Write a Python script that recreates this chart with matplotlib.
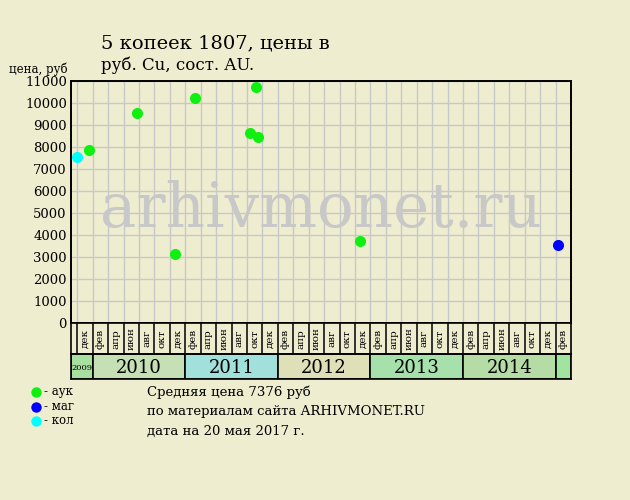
import matplotlib

matplotlib.use("Agg")
import matplotlib.pyplot as plt
from matplotlib.patches import Rectangle

plt.rcParams["font.family"] = ["DejaVu Serif"]

BG = "#EFEDD0"

# x in months counted from January 2010
green_x = [-0.44, 5.78, 10.70, 13.26, 20.38, 21.38, 21.20, 34.68]
green_y = [7846, 9524, 3143, 10204, 8617, 8463, 10703, 3719]
blue_x = [60.35]
blue_y = [3537]
cyan_x = [-2.0]
cyan_y = [7555]

month_labels = ["фев", "апр", "июн", "авг", "окт", "дек"]
years = ["2009", "2010", "2011", "2012", "2013", "2014", ""]
year_colors = ["#A8E0A0", "#C4E0B4", "#A2E0DC", "#E0E0B8", "#A6E0AA", "#B4DCA4", "#A0E4A0"]
yticks = list(range(0, 11001, 1000))

legend_labels = ["- аук", "- маг", "- кол"]
note_lines = ["Средняя цена 7376 руб", "по материалам сайта ARHIVMONET.RU",
              "дата на 20 мая 2017 г."]

XMIN, XMAX = -2.82, 61.93
grid_x = list(range(-2, 61, 2))

fig = plt.figure(figsize=(6.3, 5.0), dpi=100, facecolor=BG)
W, H = 630, 500


def box(x0, y0, x1, y1):
    return [x0 / W, 1 - y1 / H, (x1 - x0) / W, (y1 - y0) / H]


# ── main plot ─────────────────────────────────────────────
ax = fig.add_axes(box(71, 80.7, 570.5, 323.3))
ax.set_facecolor(BG)
ax.set_xlim(XMIN, XMAX)
ax.set_ylim(0, 11000)
for gx in grid_x:
    ax.axvline(gx, color="#C8C8C8", lw=1.0, zorder=1)
for gy in yticks[1:]:
    ax.axhline(gy, color="#C8C8C8", lw=1.0, zorder=1)
ax.set_xticks([])
ax.set_yticks(yticks)
ax.set_yticklabels([str(v) for v in yticks], fontsize=9.5)
ax.tick_params(axis="y", length=0, pad=3)
for s in ax.spines.values():
    s.set_linewidth(1.4)
    s.set_color("black")

ax.text((XMIN + XMAX) / 2, 5150, "arhivmonet.ru", fontsize=44, color="#C8C8C8",
        ha="center", va="center", zorder=2)

ax.scatter(green_x, green_y, s=64, color="#10F010", zorder=4, linewidths=0)
ax.scatter(blue_x, blue_y, s=64, color="#0000FF", zorder=4, linewidths=0)
ax.scatter(cyan_x, cyan_y, s=64, color="#00FFFF", zorder=4, linewidths=0)

# ── month label row ───────────────────────────────────────
axm = fig.add_axes(box(71, 323.3, 570.5, 354))
axm.set_facecolor(BG)
axm.set_xlim(XMIN, XMAX)
axm.set_ylim(0, 1)
axm.set_xticks([])
axm.set_yticks([])
for gx in grid_x:
    axm.axvline(gx, color="black", lw=1.1)
for m in range(-1, 62, 2):
    lab = month_labels[((m + 1) // 2 - 1) % 6]
    axm.text(m, 0.5, lab, rotation=90, fontsize=7.5, ha="center", va="center")
for s in axm.spines.values():
    s.set_linewidth(1.2)

# ── year band ─────────────────────────────────────────────
axy = fig.add_axes(box(71, 354, 570.5, 379))
axy.set_xlim(XMIN, XMAX)
axy.set_ylim(0, 1)
axy.set_xticks([])
axy.set_yticks([])
bounds = [XMIN, 0, 12, 24, 36, 48, 60, XMAX]
for i, (yr, col) in enumerate(zip(years, year_colors)):
    x0, x1 = bounds[i], bounds[i + 1]
    axy.add_patch(Rectangle((x0, 0), x1 - x0, 1, facecolor=col, edgecolor="black", lw=1.2))
    if yr:
        axy.text((x0 + x1) / 2, 0.45, yr, ha="center", va="center",
                 fontsize=6 if yr == "2009" else 13)
for s in axy.spines.values():
    s.set_linewidth(1.2)

# ── texts ─────────────────────────────────────────────────
fig.text(101 / W, 1 - 43 / H, "5 копеек 1807, цены в", fontsize=14, va="center")
fig.text(101 / W, 1 - 65 / H, "руб. Cu, сост. AU.", fontsize=12, va="center")
fig.text(9 / W, 1 - 69 / H, "цена, руб", fontsize=8.5, va="center")

for i, (lab, col) in enumerate(zip(legend_labels, ["#10F010", "#0000FF", "#00FFFF"])):
    yy = 1 - (392 + 14.5 * i) / H
    fig.add_artist(plt.Line2D([36 / W], [yy], marker="o", markersize=7.5, color=col,
                              markeredgewidth=0, transform=fig.transFigure))
    fig.text(44 / W, yy, lab, fontsize=8.5, va="center")

for i, line in enumerate(note_lines):
    fig.text(147 / W, 1 - (392 + 19.5 * i) / H, line, fontsize=9.5, va="center")

fig.savefig("out.png", dpi=100, facecolor=BG)
